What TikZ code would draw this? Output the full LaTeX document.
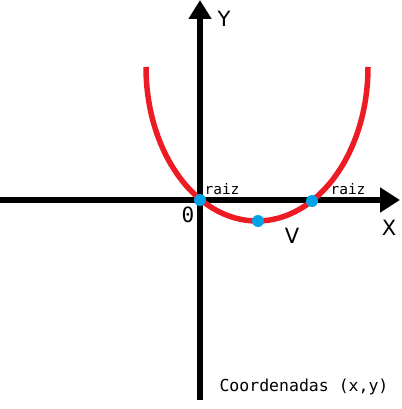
\documentclass[tikz,border=0pt]{standalone}
\usepackage{fontspec}
\setmainfont{DejaVu Sans}
\newfontfamily\monofont{DejaVu Sans Mono}
\usetikzlibrary{arrows.meta}
\definecolor{pred}{HTML}{ED1C24}
\definecolor{pblue}{HTML}{00A2E8}
\tikzset{
  axis/.style={line width=5.5pt},
  curve/.style={line width=5.5pt, draw=pred},
  dot/.style={circle, fill=pblue, inner sep=0pt, minimum size=12pt},
  bigl/.style={font=\fontsize{21}{21}\selectfont, inner sep=0pt},
  monol/.style={font=\monofont\fontsize{14.5}{14.5}\selectfont, inner sep=0pt},
}
\begin{document}
\begin{tikzpicture}[x=1pt,y=-1pt]
\useasboundingbox (0,0) rectangle (401,409);
\coordinate (xl) at (0,200);
\coordinate (xr) at (400,200);
\coordinate (yb) at (200,400);
\coordinate (yt) at (200,0);
\draw[axis,-{Triangle[length=20pt,width=24pt]}] (xl) -- (xr);
\draw[axis,-{Triangle[length=19pt,width=22pt]}] (yb) -- (yt);
\coordinate (cl) at (146,67);
\draw[curve] (cl) arc[start angle=180, end angle=360, x radius=111, y radius=-154];
\node[dot] (r1) at (200,200) {};
\node[dot] (r2) at (312,201) {};
\node[dot] (v) at (258,221) {};
\node[bigl] (ylab) at (224,19) {Y};
\node[bigl] (xlab) at (389,228) {X};
\node[bigl] (vlab) at (292,236) {V};
\node[font=\monofont\fontsize{21}{21}\selectfont, inner sep=0pt] (zero) at (188,215) {0};
\node[monol] (raiz1) at (222,189) {raiz};
\node[monol] (raiz2) at (348,189) {raiz};
\node[font=\monofont\fontsize{16.5}{16.5}\selectfont, inner sep=0pt] (coord) at (304,387) {Coordenadas (x,y)};
\end{tikzpicture}
\end{document}
